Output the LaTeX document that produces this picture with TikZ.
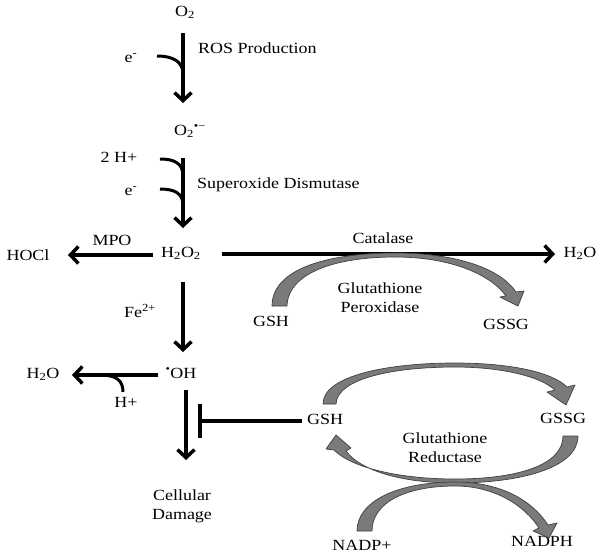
\documentclass[tikz,border=0pt]{standalone}
\usepackage{fontspec}
\setmainfont{Liberation Serif}[FakeStretch=1.16]
\usetikzlibrary{arrows.meta}
\begin{document}
\begin{tikzpicture}[x=1pt,y=-1pt,
  lbl/.style={inner sep=0pt, font=\fontsize{15.5}{19}\selectfont, align=center},
  rxn/.style={line width=3.5pt, -{Straight Barb[length=8pt,width=17pt]}},
  side/.style={line width=3pt},
  garrow/.style={fill=black!52, draw=black!75, line width=0.7pt, line join=round}]
\useasboundingbox (0,0) rectangle (604,557);
% labels
\node[lbl] (o2) at (185,12) {O\textsubscript{2}};
\node[lbl] (e1) at (131,58) {e\textsuperscript{-}};
\node[lbl,anchor=west] (ros) at (198,48) {ROS Production};
\node[lbl,anchor=west] (sup) at (174,131) {O\textsubscript{2}\textsuperscript{•−}};
\node[lbl] (h2) at (119,157) {2 H+};
\node[lbl] (e2) at (131,191) {e\textsuperscript{-}};
\node[lbl,anchor=west] (sod) at (197,185) {Superoxide Dismutase};
\node[lbl] (h2o2) at (181,253) {H\textsubscript{2}O\textsubscript{2}};
\node[lbl] (mpo) at (112,240) {MPO};
\node[lbl] (hocl) at (28,255) {HOCl};
\node[lbl] (cat) at (383,238) {Catalase};
\node[lbl] (h2oa) at (580,253) {H\textsubscript{2}O};
\node[lbl] (gsh1) at (271,321) {GSH};
\node[lbl] (gssg1) at (506,324) {GSSG};
\node[lbl] (gpx) at (380,298) {Glutathione\\Peroxidase};
\node[lbl] (fe) at (140,311) {Fe\textsuperscript{2+}};
\node[lbl] (oh) at (181,373) {\textsuperscript{•}OH};
\node[lbl] (h2ob) at (43,374) {H\textsubscript{2}O};
\node[lbl] (hp) at (126,402) {H+};
\node[lbl] (dmg) at (182,506) {Cellular\\Damage};
\node[lbl] (gsh2) at (325,419) {GSH};
\node[lbl] (gssg2) at (563,418) {GSSG};
\node[lbl] (gr) at (445,448) {Glutathione\\Reductase};
\node[lbl] (nadp) at (362,545) {NADP+};
\node[lbl] (nadph) at (542,541) {NADPH};
% connector end points
\coordinate (a1s) at (183,33);  \coordinate (a1e) at (183,103);
\coordinate (a2s) at (183,158); \coordinate (a2e) at (183,228);
\coordinate (a3s) at (183,282); \coordinate (a3e) at (183,352);
\coordinate (a4s) at (186,390); \coordinate (a4e) at (186,460);
\coordinate (mps) at (153,255); \coordinate (mpe) at (68,255);
\coordinate (cas) at (222,254); \coordinate (cae) at (555,254);
\coordinate (hws) at (158,375); \coordinate (hwe) at (72,375);
\coordinate (inh) at (200,421);
\coordinate (inhs) at (302,421);
\coordinate (bart) at (200,404); \coordinate (barb) at (200,438);
% black reaction arrows
\draw[rxn] (a1s) -- (a1e);
\draw[rxn] (a2s) -- (a2e);
\draw[rxn] (a3s) -- (a3e);
\draw[rxn] (a4s) -- (a4e);
\draw[rxn] (mps) -- (mpe);
\draw[rxn] (cas) -- (cae);
\draw[rxn] (hws) -- (hwe);
% side inputs
\draw[side] (157,56) .. controls (172,56) and (183,61) .. (183,74);
\draw[side] (160,159) .. controls (174,159) and (183,163) .. (183,176);
\draw[side] (160,189) .. controls (174,189) and (183,193) .. (183,205);
\draw[side] (123,392) .. controls (123,381) and (117,375) .. (100,375);
% inhibition
\draw[line width=3.5pt] (inhs) -- (inh);
\draw[line width=4pt] (bart) -- (barb);
% grey curved arrows
\draw[garrow] (272,306) .. controls (272,268) and (330,253) .. (395,253)
  .. controls (455,253) and (500,268) .. (516,292) -- (524,291) -- (518,306) -- (500,297) -- (506,296)
  .. controls (490,274) and (450,257) .. (395,257)
  .. controls (335,257) and (288,273) .. (287,306) -- cycle;
\draw[garrow] (323,404) .. controls (323,375) and (390,363) .. (455,363)
  .. controls (510,363) and (552,372) .. (567,387) -- (575,385) -- (566,405) -- (547,392) -- (555,390)
  .. controls (540,376) and (500,367) .. (455,367)
  .. controls (395,367) and (337,378) .. (336,404) -- cycle;
\draw[garrow] (578,436) .. controls (578,468) and (520,483) .. (455,483)
  .. controls (400,483) and (360,470) .. (346,451) -- (351,448) -- (336,435) -- (326,449) -- (334,450)
  .. controls (352,468) and (400,479) .. (455,479)
  .. controls (515,479) and (563,466) .. (563,436) -- cycle;
\draw[garrow] (357,531) .. controls (357,500) and (400,482) .. (455,482)
  .. controls (500,482) and (532,500) .. (548,525) -- (557,523) -- (549,538) -- (533,531) -- (539,528)
  .. controls (525,506) and (495,486) .. (455,486)
  .. controls (405,486) and (372,503) .. (372,531) -- cycle;
\end{tikzpicture}
\end{document}
